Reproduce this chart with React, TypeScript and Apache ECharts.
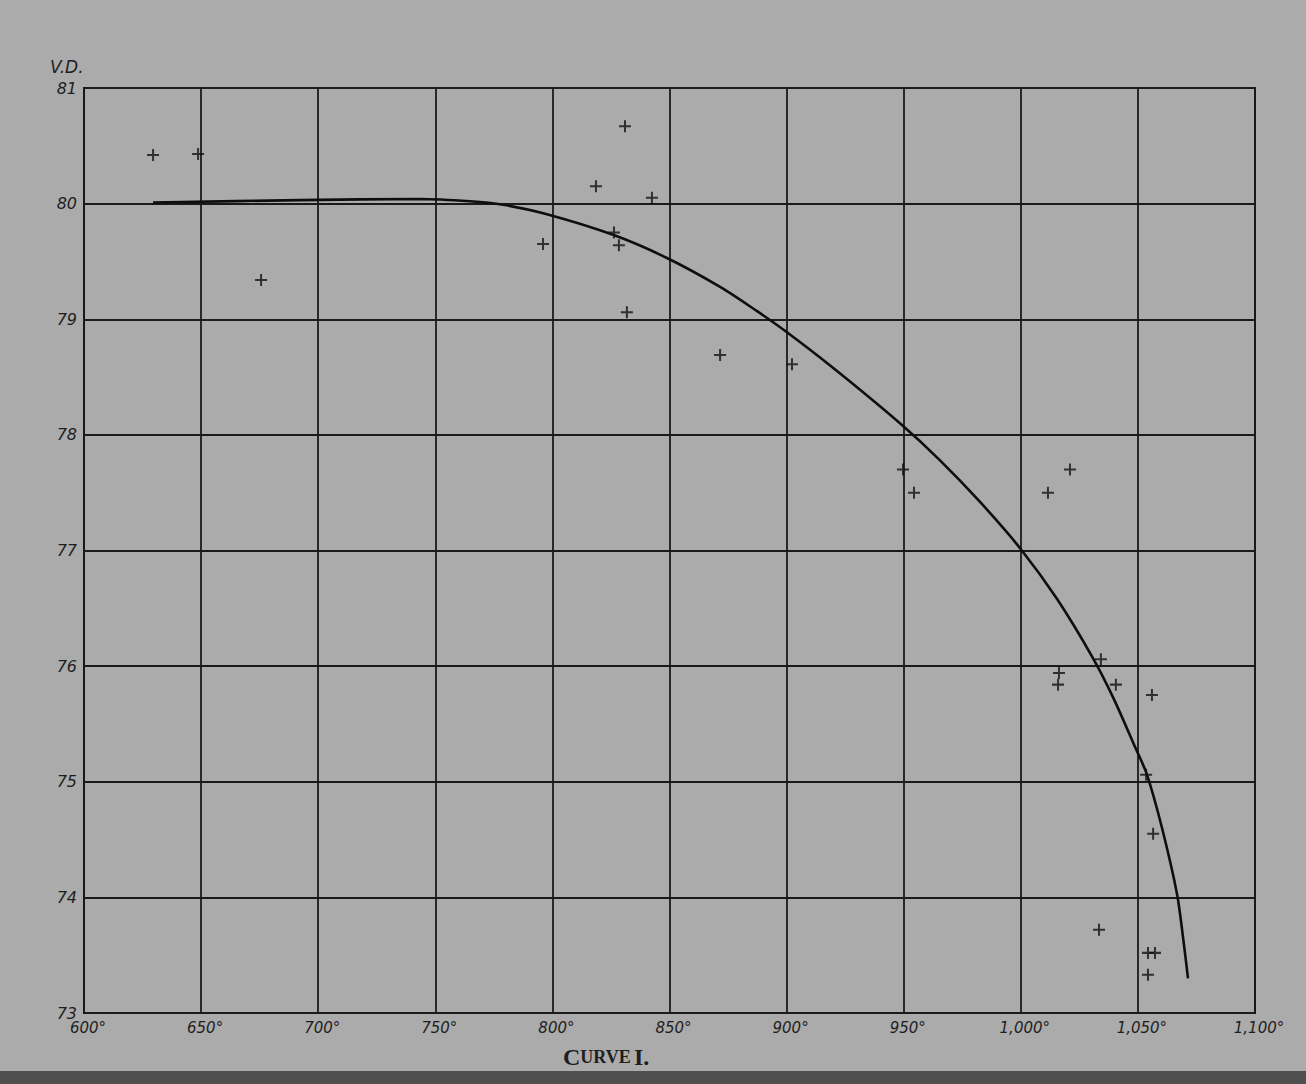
import React, { useEffect, useRef } from "react";
import * as echarts from "echarts";

// Observed points (temperature °, V.D.)
const obsTemp = [629.5, 648.7, 675.6, 796, 818.6, 831, 842.5, 826.3, 828.4, 831.8, 871.6, 902.3, 949.7, 954.4, 1011.6, 1021, 1016.3, 1015.9, 1034.2, 1040.6, 1056, 1053.5, 1056.5, 1033.4, 1054.3, 1057.3, 1054.3];
const obsVD = [80.42, 80.43, 79.34, 79.65, 80.15, 80.67, 80.05, 79.75, 79.64, 79.06, 78.69, 78.61, 77.7, 77.5, 77.5, 77.7, 75.94, 75.84, 76.06, 75.84, 75.75, 75.06, 74.55, 73.72, 73.52, 73.52, 73.33];

// Fitted curve
const curveTemp = [629.5, 692.2, 743.5, 764.8, 778.9, 797.3, 825.9, 848.9, 871.6, 887.4, 899.3, 919.8, 948.4, 965.5, 982.6, 999.7, 1015.5, 1030.8, 1039.4, 1048.8, 1053.9, 1060.3, 1066.7, 1069.3, 1071.4];
const curveVD = [80.01, 80.03, 80.04, 80.02, 79.99, 79.91, 79.73, 79.53, 79.28, 79.07, 78.9, 78.58, 78.1, 77.78, 77.42, 77.02, 76.58, 76.07, 75.73, 75.3, 75.06, 74.6, 74.03, 73.65, 73.3];

const xTicks = [600, 650, 700, 750, 800, 850, 900, 950, 1000, 1050, 1100];
const yTicks = [73, 74, 75, 76, 77, 78, 79, 80, 81];

const PLUS = "path://M5,0 L7,0 L7,5 L12,5 L12,7 L7,7 L7,12 L5,12 L5,7 L0,7 L0,5 L5,5 Z";

export default function App() {
  const ref = useRef<HTMLDivElement>(null);
  useEffect(() => {
    document.body.style.margin = "0";
    const chart = echarts.init(ref.current!, null, { renderer: "svg" });
    const fmtX = (v: number) => (v >= 1000 ? v.toLocaleString("en-US") : String(v)) + "°";
    chart.setOption({
      animation: false,
      backgroundColor: "#ababab",
      grid: {
        left: 84,
        right: 51,
        top: 88,
        height: 925,
        show: true,
        borderColor: "#161616",
        borderWidth: 2,
      },
      xAxis: {
        type: "value",
        min: 600,
        max: 1100,
        interval: 50,
        axisLine: { show: false },
        axisTick: { show: false },
        splitLine: { show: true, lineStyle: { color: "#1a1a1a", width: 1.8 } },
        axisLabel: {
          formatter: (v: number) => (xTicks.includes(v) ? fmtX(v) : ""),
          fontFamily: "DejaVu Sans",
          fontStyle: "italic",
          fontSize: 15,
          color: "#1e1e1e",
          margin: 7,
          padding: [0, 0, 0, 8],
        },
      },
      yAxis: {
        type: "value",
        min: 73,
        max: 81,
        interval: 1,
        axisLine: { show: false },
        axisTick: { show: false },
        splitLine: { show: true, lineStyle: { color: "#1a1a1a", width: 1.8 } },
        axisLabel: {
          formatter: (v: number) => (yTicks.includes(v) ? String(v) : ""),
          fontFamily: "DejaVu Sans",
          fontStyle: "italic",
          fontSize: 16,
          color: "#1e1e1e",
          margin: 7,
          padding: [6, 0, 0, 0],
        },
      },
      graphic: [
        {
          type: "text",
          left: 50,
          top: 58,
          style: {
            text: "V.D.",
            font: "italic 17px 'DejaVu Sans'",
            fill: "#1e1e1e",
          },
        },
        {
          type: "text",
          left: 563,
          top: 1045,
          style: {
            text: "{a|C}{b|URVE} {a|I.}",
            fill: "#1e1e1e",
            rich: {
              a: { fontFamily: "Liberation Serif", fontWeight: "bold", fontSize: 24, fill: "#1e1e1e" },
              b: { fontFamily: "Liberation Serif", fontWeight: "bold", fontSize: 18, fill: "#1e1e1e" },
            },
          },
        },
        {
          type: "rect",
          left: 0,
          top: 1071,
          shape: { width: 1306, height: 13 },
          style: { fill: "#4f4f4f" },
        },
      ],
      series: [
        {
          type: "line",
          data: curveTemp.map((t, i) => [t, curveVD[i]]),
          smooth: 0.3,
          showSymbol: false,
          symbol: "none",
          lineStyle: { color: "#0e0e0e", width: 2.6 },
          z: 3,
        },
        {
          type: "scatter",
          data: obsTemp.map((t, i) => [t, obsVD[i]]),
          symbol: PLUS,
          symbolSize: 12,
          itemStyle: { color: "#111" },
          z: 4,
        },
      ],
    });
    return () => chart.dispose();
  }, []);
  return <div ref={ref} style={{ width: 1306, height: 1084 }} />;
}
